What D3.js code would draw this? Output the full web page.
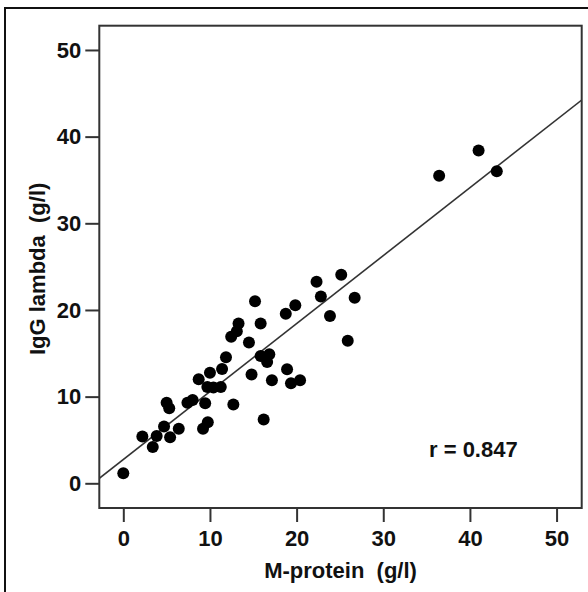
<!DOCTYPE html>
<html>
<head>
<meta charset="utf-8">
<script src="https://cdn.jsdelivr.net/npm/d3@7"></script>
<style>
  body { margin: 0; background: #fff; }
  svg { display: block; font-family: "Liberation Sans", Arial, sans-serif; }
</style>
</head>
<body>
<svg width="588" height="592"></svg>
<script>
// M-protein (g/l) vs IgG lambda (g/l)
let mProtein = [0.0, 2.2, 3.4, 3.85, 4.7, 5.4, 5.0, 5.3, 6.4, 7.4, 8.0, 8.7,
  9.45, 9.2, 9.75, 10.0, 9.7, 10.4, 11.25, 11.4, 11.85, 12.7, 12.45, 13.1,
  13.3, 14.5, 15.2, 14.8, 15.85, 15.85, 16.85, 16.6, 16.2, 17.15, 18.75, 18.9,
  19.35, 20.4, 19.85, 22.3, 22.8, 23.85, 25.15, 25.9, 26.7, 36.45, 41.0, 43.1];
let iggLambda = [1.15, 5.4, 4.2, 5.45, 6.55, 5.3, 9.3, 8.65, 6.3, 9.3, 9.6, 12.0,
  9.25, 6.3, 7.05, 12.75, 11.1, 11.05, 11.1, 13.2, 14.55, 9.1, 16.9, 17.55,
  18.45, 16.25, 21.0, 12.55, 18.45, 14.7, 14.9, 14.0, 7.35, 11.9, 19.55, 13.15,
  11.55, 11.9, 20.55, 23.25, 21.55, 19.3, 24.05, 16.45, 21.4, 35.5, 38.4, 36.0];

let xTicks = [0, 10, 20, 30, 40, 50];
let yTicks = [0, 10, 20, 30, 40, 50];

// fitted line
let fitIntercept = 2.75;
let fitSlope = 0.784;

let svg = d3.select('svg');

let plotLeft = 99.3, plotRight = 581.7, plotTop = 25.7, plotBottom = 508;

let x = d3.scaleLinear().domain([-2.77, 52.9]).range([plotLeft, plotRight]);
let y = d3.scaleLinear().domain([-2.85, 52.8]).range([plotBottom, plotTop]);

// outer frame
svg.append('rect')
  .attr('x', 5).attr('y', 8)
  .attr('width', 620).attr('height', 620)
  .attr('fill', 'none')
  .attr('stroke', '#111')
  .attr('stroke-width', 2);

// clip for the fitted line
svg.append('clipPath').attr('id', 'plot')
  .append('rect')
  .attr('x', plotLeft).attr('y', plotTop)
  .attr('width', plotRight - plotLeft).attr('height', plotBottom - plotTop);

let xAxis = svg.append('g')
  .attr('transform', `translate(0,${plotBottom})`)
  .call(d3.axisBottom(x).tickValues(xTicks).tickSize(14).tickPadding(8).tickSizeOuter(0));

let yAxis = svg.append('g')
  .attr('transform', `translate(${plotLeft},0)`)
  .call(d3.axisLeft(y).tickValues(yTicks).tickSize(14).tickPadding(4).tickSizeOuter(0));

[xAxis, yAxis].forEach((g) => {
  g.select('.domain').remove();
  g.selectAll('line').attr('stroke', '#333').attr('stroke-width', 2);
  g.selectAll('text')
    .attr('fill', '#111')
    .style('font-size', '22px')
    .style('font-weight', 'bold');
});

// regression line
let x0 = x.domain()[0], x1 = x.domain()[1];
svg.append('line')
  .attr('clip-path', 'url(#plot)')
  .attr('x1', x(x0)).attr('y1', y(fitIntercept + fitSlope * x0))
  .attr('x2', x(x1)).attr('y2', y(fitIntercept + fitSlope * x1))
  .attr('stroke', '#333')
  .attr('stroke-width', 1.6);

// points
svg.append('g')
  .selectAll('circle')
  .data(mProtein.map((d, i) => [d, iggLambda[i]]))
  .join('circle')
  .attr('cx', (d) => x(d[0]))
  .attr('cy', (d) => y(d[1]))
  .attr('r', 6)
  .attr('fill', '#000');

// plot box
svg.append('rect')
  .attr('x', plotLeft).attr('y', plotTop)
  .attr('width', plotRight - plotLeft).attr('height', plotBottom - plotTop)
  .attr('fill', 'none')
  .attr('stroke', '#333')
  .attr('stroke-width', 2);

// axis titles
svg.append('text')
  .attr('x', (plotLeft + plotRight) / 2)
  .attr('y', 578)
  .attr('text-anchor', 'middle')
  .attr('fill', '#111')
  .style('font-size', '22px')
  .style('font-weight', 'bold')
  .style('white-space', 'pre')
  .text('M-protein  (g/l)');

svg.append('text')
  .attr('transform', `translate(45,${(plotTop + plotBottom) / 2 + 2}) rotate(-90)`)
  .attr('text-anchor', 'middle')
  .attr('fill', '#111')
  .style('font-size', '22px')
  .style('font-weight', 'bold')
  .style('white-space', 'pre')
  .text('IgG lambda  (g/l)');

// correlation label
svg.append('text')
  .attr('x', 429)
  .attr('y', 457)
  .attr('fill', '#111')
  .style('font-size', '22px')
  .style('font-weight', 'bold')
  .text('r = 0.847');
</script>
</body>
</html>
